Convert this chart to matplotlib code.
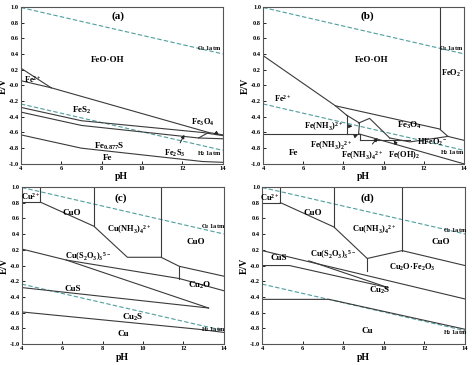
import numpy as np
import matplotlib
matplotlib.use('Agg')
import matplotlib.pyplot as plt

plt.rcParams['font.family'] = 'Liberation Serif'
plt.rcParams['font.weight'] = 'bold'
plt.rcParams['mathtext.fontset'] = 'custom'
plt.rcParams['mathtext.rm'] = 'Liberation Serif:bold'
plt.rcParams['mathtext.it'] = 'Liberation Serif:bold'
plt.rcParams['mathtext.bf'] = 'Liberation Serif:bold'
plt.rcParams['mathtext.default'] = 'regular'

# water stability lines
ph_water = [4, 14]
o2_line = [1.229 - 0.0591 * p for p in ph_water]
h2_line = [-0.0591 * p for p in ph_water]

# ---- panel (a) boundaries: (pH list, E list)
a_lines = [
    ([4, 5.5], [0.22, -0.03]),
    ([4, 5.5], [0.06, -0.03]),
    ([5.5, 13.3, 14], [-0.03, -0.60, -0.63]),
    ([4, 7, 13.0, 14], [-0.28, -0.45, -0.60, -0.64]),
    ([4, 7, 12.8, 14], [-0.34, -0.51, -0.67, -0.68]),
    ([12.8, 13.3], [-0.67, -0.60]),
    ([4, 7, 13, 14], [-0.63, -0.80, -0.97, -0.98]),
]

# ---- panel (b)
b_lines = [
    ([4, 7.6, 8.16], [0.38, -0.26, -0.38]),
    ([7.6, 12.78, 13.2, 14], [-0.26, -0.555, -0.65, -0.70]),
    ([12.78, 12.78], [1.0, -0.555]),
    ([4, 8.16], [-0.62, -0.62]),
    ([8.16, 8.16], [-0.38, -0.62]),
    ([8.16, 8.8, 8.75], [-0.38, -0.48, -0.62]),
    ([8.75, 9.3, 10.3], [-0.48, -0.42, -0.67]),
    ([8.16, 8.8, 8.8], [-0.62, -0.62, -0.69]),
    ([8.8, 11.3], [-0.69, -0.69]),
    ([10.3, 11.3, 13.2], [-0.67, -0.72, -0.65]),
    ([8.8, 14], [-0.62, -1.0]),
]

# ---- panel (c)
c_lines = [
    ([4, 4.92, 4.92], [0.806, 0.806, 1.0]),
    ([4.92, 7.57, 9.23, 10.9, 11.8, 14], [0.806, 0.50, 0.105, 0.105, -0.01, -0.135]),
    ([7.57, 7.57], [1.0, 0.50]),
    ([10.9, 10.9], [1.0, 0.105]),
    ([11.8, 11.8], [-0.01, -0.165]),
    ([4, 6.2, 11.8, 14], [0.21, 0.07, -0.165, -0.32]),
    ([6.2, 13.25], [0.07, -0.54]),
    ([4, 13.25], [-0.28, -0.54]),
    ([4, 12.75, 14], [-0.59, -0.81, -0.85]),
]

# ---- panel (d)
d_lines = [
    ([4, 4.9, 4.9], [0.80, 0.80, 1.0]),
    ([4.9, 7.54, 9.18, 10.9, 14], [0.80, 0.49, 0.09, 0.19, 0.0]),
    ([7.54, 7.54], [1.0, 0.49]),
    ([10.9, 10.9], [1.0, 0.19]),
    ([9.18, 9.18], [0.09, -0.07]),
    ([4, 14], [0.19, -0.425]),
    ([6.3, 10.2], [0.06, -0.28]),
    ([4, 5.35, 10.2], [0.0, 0.0, -0.28]),
    ([4, 7.3, 14], [-0.43, -0.43, -0.81]),
]

# labels: (text, pH, E, size)
a_text = [
    ('(a)', 8.8, 0.88, 8), ('FeO·OH', 8.3, 0.33, 6.5), (r'Fe$^{2+}$', 4.6, 0.08, 6),
    (r'FeS$_2$', 7.0, -0.32, 6.5), (r'Fe$_{0.877}$S', 8.4, -0.78, 6.5), ('Fe', 8.3, -0.92, 6.5),
]
b_text = [
    ('(b)', 9.2, 0.88, 8), ('FeO·OH', 9.4, 0.33, 6.5), (r'FeO$_2$$^{-}$', 13.45, 0.15, 6),
    (r'Fe$^{2+}$', 5.0, -0.17, 6), (r'Fe$_3$O$_4$', 11.3, -0.51, 6.5),
    (r'HFeO$_2$$^{-}$', 12.4, -0.73, 6), ('Fe', 5.5, -0.86, 6.5),
]
c_text = [
    ('(c)', 8.9, 0.86, 8), (r'Cu$^{2+}$', 4.45, 0.88, 6), ('CuO', 6.5, 0.67, 6.5),
    (r'Cu(NH$_3$)$_4$$^{2+}$', 9.3, 0.45, 6), ('CuO', 12.6, 0.30, 6.5),
    (r'Cu(S$_2$O$_3$)$_3$$^{5-}$', 7.3, 0.11, 6), ('CuS', 6.5, -0.30, 6.5),
    (r'Cu$_2$O', 12.8, -0.25, 6.5), (r'Cu$_2$S', 9.5, -0.66, 6.5), ('Cu', 9.0, -0.87, 6.5),
]
d_text = [
    ('(d)', 9.2, 0.86, 8), (r'Cu$^{2+}$', 4.4, 0.86, 6), ('CuO', 6.5, 0.67, 6.5),
    (r'Cu(NH$_3$)$_4$$^{2+}$', 9.5, 0.45, 6), ('CuO', 12.8, 0.30, 6.5),
    (r'Cu(S$_2$O$_3$)$_3$$^{5-}$', 7.5, 0.14, 6), ('CuS', 4.8, 0.09, 6.5),
    (r'Cu$_2$O·Fe$_2$O$_3$', 11.4, -0.02, 6), (r'Cu$_2$S', 9.8, -0.32, 6.5),
    ('Cu', 9.2, -0.83, 6.5),
]

# arrows: (text, text pH, text E, target pH, target E)
a_arrows = [
    (r'Fe$_3$O$_4$', 13.0, -0.47, 13.8, -0.63),
    (r'Fe$_2$S$_3$', 11.6, -0.87, 12.1, -0.63),
]
b_arrows = [
    (r'Fe(NH$_3$)$^{2+}$', 7.0, -0.52, 8.45, -0.52),
    (r'Fe(NH$_3$)$_2$$^{2+}$', 7.4, -0.77, 8.72, -0.63),
    (r'Fe(NH$_3$)$_4$$^{2+}$', 8.95, -0.89, 9.7, -0.67),
    (r'Fe(OH)$_2$', 11.0, -0.89, 10.5, -0.70),
]

fig = plt.figure(figsize=(4.74, 3.65), dpi=100)
boxes = [
    [0.044, 0.551, 0.426, 0.430],
    [0.555, 0.551, 0.424, 0.430],
    [0.046, 0.057, 0.426, 0.431],
    [0.553, 0.057, 0.428, 0.431],
]
panels = [
    (a_lines, a_text, a_arrows, (13.3, 0.47), (13.3, -0.87)),
    (b_lines, b_text, b_arrows, (13.35, 0.47), (13.4, -0.86)),
    (c_lines, c_text, [], (13.5, 0.49), (13.5, -0.81)),
    (d_lines, d_text, [], (13.5, 0.45), (13.5, -0.85)),
]

dash_col = '#4f9e9e'
line_col = '#3a3a3a'
for box, (lines, texts, arrows, o2pos, h2pos) in zip(boxes, panels):
    ax = fig.add_axes(box)
    ax.plot(ph_water, o2_line, ls='--', color=dash_col, lw=0.8, dashes=(4, 2))
    ax.plot(ph_water, h2_line, ls='--', color=dash_col, lw=0.8, dashes=(4, 2))
    for xs, ys in lines:
        ax.plot(xs, ys, color=line_col, lw=0.8)
    for t, x, y, s in texts:
        ax.text(x, y, t, fontsize=s, ha='center', va='center', fontweight='bold')
    for t, x, y, tx, ty in arrows:
        ax.annotate(t, xy=(tx, ty), xytext=(x, y), fontsize=6, ha='center', va='center',
                    fontweight='bold',
                    arrowprops=dict(arrowstyle='-|>', color='#222222', lw=0.7,
                                    mutation_scale=5, shrinkA=2, shrinkB=0))
    ax.text(o2pos[0], o2pos[1], r'O$_2$ 1atm', fontsize=4.5, ha='center', va='center')
    ax.text(h2pos[0], h2pos[1], r'H$_2$ 1atm', fontsize=4.5, ha='center', va='center')
    ax.set_xlim(4, 14)
    ax.set_ylim(-1.0, 1.0)
    ax.set_xticks([4, 6, 8, 10, 12, 14])
    ax.set_yticks(np.arange(-1.0, 1.01, 0.2))
    ax.set_yticklabels(['%.1f' % v for v in np.arange(-1.0, 1.01, 0.2)])
    ax.tick_params(labelsize=4.6, length=2, width=0.6, direction='in', pad=1.5)
    for sp in ax.spines.values():
        sp.set_color('#555555')
        sp.set_linewidth(0.8)
    ax.set_xlabel('pH', fontsize=7, fontweight='bold', labelpad=1)
    ax.set_ylabel('E/V', fontsize=7, fontweight='bold')
    ax.yaxis.set_label_coords(-0.065, 0.5)

plt.savefig('out.png', dpi=100)
